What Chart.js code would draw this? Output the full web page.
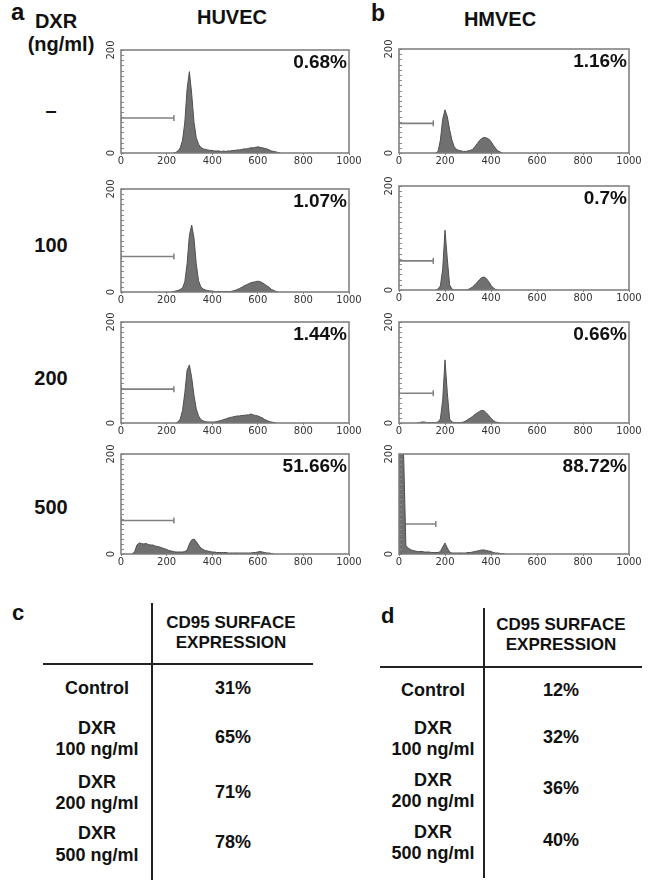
<!DOCTYPE html>
<html>
<head>
<meta charset="utf-8">
<script src="https://cdn.jsdelivr.net/npm/chart.js@4/dist/chart.umd.min.js"></script>
<style>
  html, body { margin: 0; padding: 0; background: #fff; }
  #page { position: relative; width: 652px; height: 881px; overflow: hidden; background: #fff;
          font-family: "Liberation Sans", Arial, sans-serif; font-weight: bold; color: #111; }
  .t { position: absolute; white-space: nowrap; }
  .ln { position: absolute; background: #222; }
  canvas { position: absolute; }
</style>
</head>
<body>
<div id="page"></div>
<script>
// ---------------- DATA ----------------
const BIN = 10;                      // channel width of one histogram bin
const doses = ['–', '100', '200', '500'];
const cellTypes = ['HUVEC', 'HMVEC'];

// HUVEC histograms (counts per 10-channel bin, first bin channel in *Start)
const huvec0   = [0,1,4,10,25,60,125,158,115,60,30,17,11,8,7,6,5,5,4,4,4,3,4,3,4,4,5,5,6,6,7,8,8,9,10,10,11,12,11,10,9,8,6,4,3,2,1,0];
const huvec100 = [0,1,2,3,5,8,20,55,110,130,105,55,22,10,6,4,3,2,2,1,1,1,1,1,1,1,1,2,3,5,7,9,12,14,16,18,19,20,21,20,18,15,12,9,5,3,1,0];
const huvec200 = [0,2,8,25,60,105,115,90,55,28,14,7,4,3,2,2,2,2,3,4,5,7,8,10,11,12,13,14,14,15,15,16,16,18,16,15,14,12,10,7,5,3,2,1,0];
const huvec500 = [0,5,18,22,21,20,21,19,18,18,16,15,14,12,11,9,7,6,5,4,4,4,4,5,8,20,28,30,25,18,12,9,7,6,5,4,4,3,3,3,3,3,2,2,2,2,2,2,2,2,2,2,2,3,3,4,5,4,3,2,2,1,0];
const huvecStart = [230, 220, 240, 50];

// HMVEC histograms
const hmvec0   = [0,3,25,65,83,70,45,25,12,7,5,4,3,3,4,5,7,12,18,24,28,30,29,27,22,15,9,4,2,0];
const hmvec100 = [0,2,8,40,115,60,10,2,0,0,0,0,0,0,1,3,6,10,15,20,24,25,22,16,9,4,1,0];
const hmvec200 = [0,1,2,2,1,1,1,1,1,2,8,45,125,60,8,2,1,1,1,1,2,4,7,10,13,17,20,23,25,24,20,15,9,5,2,1,0];
const hmvec500 = [230,230,200,16,12,9,7,6,5,5,5,4,4,4,3,3,3,3,5,14,22,12,4,2,2,2,2,2,2,2,3,3,4,5,6,7,8,8,7,6,5,3,2,2,1,1,0];
const hmvecStart = [160, 160, 80, 0];

// gate marker (horizontal bar) : end channel and height
const huvecGateEnd = [232, 232, 232, 232];
const huvecGateY   = [68, 69, 67, 67];
const hmvecGateEnd = [149, 149, 149, 160];
const hmvecGateY   = [57, 56, 59, 60];

// percentage labels
const huvecPct = ['0.68%', '1.07%', '1.44%', '51.66%'];
const hmvecPct = ['1.16%', '0.7%', '0.66%', '88.72%'];

// axis ticks
const xMin = 0, xMax = 1000, xStep = 200;
const yMin = 0, yMax = 200, yMinorStep = 10;
const yLabels = [200, 0];

// CD95 tables
const tableHeader = ['CD95 SURFACE', 'EXPRESSION'];
const tableRows = [['Control'], ['DXR', '100 ng/ml'], ['DXR', '200 ng/ml'], ['DXR', '500 ng/ml']];
const huvecCD95 = ['31%', '65%', '71%', '78%'];
const hmvecCD95 = ['12%', '32%', '36%', '40%'];

// ---------------- LAYOUT ----------------
const page = document.getElementById('page');
function txt(s, cx, cy, size, opts) {
  opts = opts || {};
  const d = document.createElement('div');
  d.className = 't';
  d.textContent = s;
  const lh = Math.round(size * 1.3);
  d.style.fontSize = size + 'px';
  d.style.lineHeight = lh + 'px';
  d.style.top = (cy - lh / 2) + 'px';
  if (opts.left !== undefined) { d.style.left = opts.left + 'px'; }
  else { d.style.left = (cx - 150) + 'px'; d.style.width = '300px'; d.style.textAlign = 'center'; }
  if (opts.color) d.style.color = opts.color;
  page.appendChild(d);
}
function line(x, y, w, h) {
  const d = document.createElement('div');
  d.className = 'ln';
  d.style.left = x + 'px'; d.style.top = y + 'px';
  d.style.width = w + 'px'; d.style.height = h + 'px';
  page.appendChild(d);
}

// header texts
txt('a', 0, 11, 24, { left: 11 });
txt('DXR', 56, 21, 20);
txt('(ng/ml)', 61, 44, 20);
txt(cellTypes[0], 232, 17, 20);
txt('b', 0, 13, 23, { left: 371 });
txt(cellTypes[1], 500, 19, 20);
const doseY = [110, 245, 378, 507];
doses.forEach((d, i) => txt(d, 51, doseY[i], 20));

// histogram panels
const huvecBoxes = [[121, 50, 349, 153], [121, 189, 349, 292], [121, 322, 349, 423], [121, 454, 349, 554]];
const hmvecBoxes = [[399, 49, 629, 153], [399, 186, 629, 290], [399, 322, 629, 423], [399, 454, 629, 554]];
const PAD_T = 10, PAD_R = 14, Y_W = 16, X_H = 16;

function makePanel(box, counts, start, gateEnd, gateY, pct) {
  const [L, T, R, B] = box;
  const c = document.createElement('canvas');
  const W = (R - L) + Y_W + PAD_R, H = (B - T) + PAD_T + X_H;
  c.width = W; c.height = H;
  c.style.left = (L - Y_W) + 'px'; c.style.top = (T - PAD_T) + 'px';
  c.style.width = W + 'px'; c.style.height = H + 'px';
  page.appendChild(c);

  const decor = {
    id: 'decor',
    afterDraw(chart) {
      const ctx = chart.ctx, a = chart.chartArea, ys = chart.scales.y;
      ctx.save();
      // minor ticks along the left edge
      ctx.strokeStyle = '#8a8a8a'; ctx.lineWidth = 1;
      ys.ticks.forEach(t => {
        const py = Math.round(ys.getPixelForValue(t.value)) + 0.5;
        ctx.beginPath(); ctx.moveTo(a.left, py); ctx.lineTo(a.left + 3, py); ctx.stroke();
      });
      ctx.strokeStyle = '#7a7a7a'; ctx.lineWidth = 1.5;
      ctx.strokeRect(a.left, a.top, a.right - a.left, a.bottom - a.top);
      ctx.fillStyle = '#333';
      ctx.font = '10px "DejaVu Sans"';
      ctx.textAlign = 'center'; ctx.textBaseline = 'middle';
      yLabels.forEach(v => {
        ctx.save();
        ctx.translate(a.left - 10, ys.getPixelForValue(v));
        ctx.rotate(-Math.PI / 2);
        ctx.fillText(String(v), 0, 0);
        ctx.restore();
      });
      ctx.fillStyle = '#111';
      ctx.font = 'bold 19px "Liberation Sans", Arial';
      ctx.textAlign = 'right'; ctx.textBaseline = 'middle';
      ctx.fillText(pct, a.right - 2, a.top + 13);
      ctx.restore();
    }
  };

  new Chart(c.getContext('2d'), {
    type: 'line',
    data: {
      datasets: [
        {
          data: counts.map((v, i) => ({ x: start + i * BIN, y: v })),
          fill: 'origin', backgroundColor: '#707070', borderColor: '#4f4f4f',
          borderWidth: 1, pointRadius: 0, tension: 0
        },
        {
          data: [{ x: 0, y: gateY }, { x: gateEnd, y: gateY }],
          fill: false, borderColor: '#808080', borderWidth: 1.6,
          pointStyle: 'line', rotation: 90, pointRadius: 3,
          pointBorderColor: '#808080', pointBorderWidth: 1.5
        }
      ]
    },
    options: {
      responsive: false, animation: false, events: [],
      layout: { padding: { left: 0, top: PAD_T, right: PAD_R, bottom: 0 } },
      plugins: { legend: { display: false }, tooltip: { enabled: false } },
      scales: {
        x: {
          type: 'linear', min: xMin, max: xMax,
          ticks: { stepSize: xStep, maxRotation: 0, padding: 0, color: '#333',
                   font: { family: 'DejaVu Sans', size: 10 },
                   callback: v => String(v) },
          grid: { drawOnChartArea: false, tickLength: 2, color: '#888' },
          border: { display: false },
          afterFit(s) { s.height = X_H; s.paddingLeft = 0; s.paddingRight = 0; }
        },
        y: {
          min: yMin, max: yMax,
          ticks: { stepSize: yMinorStep, display: false },
          grid: { display: false },
          border: { display: false },
          afterFit(s) { s.width = Y_W; s.paddingTop = 0; s.paddingBottom = 0; }
        }
      }
    },
    plugins: [decor]
  });
}

const huvecData = [huvec0, huvec100, huvec200, huvec500];
const hmvecData = [hmvec0, hmvec100, hmvec200, hmvec500];
for (let i = 0; i < 4; i++) {
  makePanel(huvecBoxes[i], huvecData[i], huvecStart[i], huvecGateEnd[i], huvecGateY[i], huvecPct[i]);
  makePanel(hmvecBoxes[i], hmvecData[i], hmvecStart[i], hmvecGateEnd[i], hmvecGateY[i], hmvecPct[i]);
}

// tables
function makeTable(letter, letterX, letterCY, vx, vTop, vBot, hx1, hx2, hy, headCX, headY, labCX, valCX, rowY, values) {
  txt(letter, 0, letterCY, 22, { left: letterX });
  line(vx, vTop, 2, vBot - vTop);
  line(hx1, hy, hx2 - hx1, 2);
  tableHeader.forEach((h, i) => txt(h, headCX, headY[i], 17));
  tableRows.forEach((r, i) => {
    const ys = rowY[i];
    txt(r[0], labCX, ys[0], 18);
    if (r.length > 1) txt(r[1], labCX, ys[1], 18);
    txt(values[i], valCX, ys[2], 18);
  });
}
makeTable('c', 12, 612, 151, 603, 880, 43, 313, 663, 231, [623, 643], 97, 233,
  [[688, 0, 688], [728, 749, 737], [782, 803, 792], [833, 855, 842]], huvecCD95);
makeTable('d', 381, 615, 483, 608, 878, 380, 642, 666, 561, [625, 645], 433, 561,
  [[690, 0, 690], [728, 749, 737], [780, 801, 788], [832, 853, 840]], hmvecCD95);
</script>
</body>
</html>
